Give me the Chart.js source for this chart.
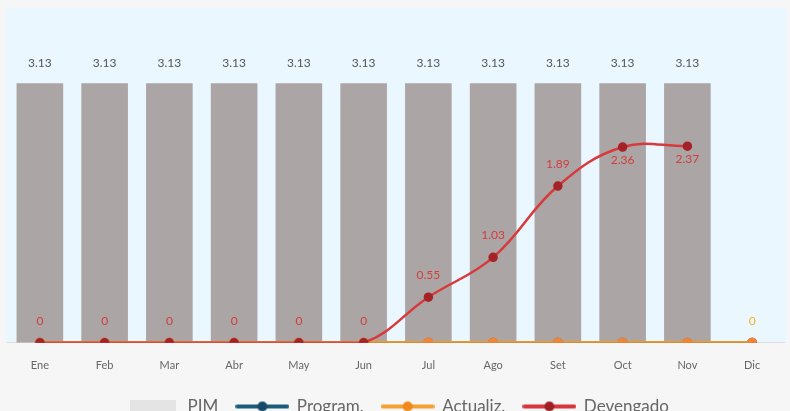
<!DOCTYPE html>
<html>
<head>
<meta charset="utf-8">
<script src="https://cdn.jsdelivr.net/npm/chart.js@4/dist/chart.umd.min.js"></script>
<style>
  html, body { margin: 0; padding: 0; background: #f6f6f6; overflow: hidden; }
  #wrap { width: 792px; height: 425px; position: relative; }
</style>
</head>
<body>
<div id="wrap"><canvas id="myChart"></canvas></div>
<script>
// Datos del grafico
const meses = ['Ene', 'Feb', 'Mar', 'Abr', 'May', 'Jun', 'Jul', 'Ago', 'Set', 'Oct', 'Nov', 'Dic'];
const pim = [3.13, 3.13, 3.13, 3.13, 3.13, 3.13, 3.13, 3.13, 3.13, 3.13, 3.13, null];
const programado = [0, 0, 0, 0, 0, 0, 0, 0, 0, 0, 0, 0];
const actualizado = [0, 0, 0, 0, 0, 0, 0, 0, 0, 0, 0, 0];
const devengado = [0, 0, 0, 0, 0, 0, 0.55, 1.03, 1.89, 2.36, 2.37, null];

const FONT = 'Lato, "Open Sans", sans-serif';

// marcador de leyenda: linea con punto
function lineMarker(color, dot) {
    const c = document.createElement('canvas');
    c.width = 54; c.height = 14;
    const g = c.getContext('2d');
    g.strokeStyle = color; g.lineWidth = 4; g.lineCap = 'round';
    g.beginPath(); g.moveTo(2, 7); g.lineTo(52, 7); g.stroke();
    g.fillStyle = dot;
    g.beginPath(); g.arc(27, 7, 5, 0, Math.PI * 2); g.fill();
    return c;
}
function boxMarker(color) {
    const c = document.createElement('canvas');
    c.width = 46; c.height = 14;
    const g = c.getContext('2d');
    g.fillStyle = color; g.fillRect(0, 0, 46, 14);
    return c;
}
const markers = [boxMarker('#e4e4e4'), lineMarker('#1d5b7d', '#164a66'),
                 lineMarker('#f5a033', '#ef8a1a'), lineMarker('#d9363b', '#9f2024')];

// fondo del area del grafico
const fondo = {
    id: 'fondo',
    beforeDraw(chart) {
        const { ctx, chartArea: a } = chart;
        ctx.save();
        ctx.fillStyle = '#ebf7fe';
        ctx.fillRect(a.left - 2, a.top - 3, a.right - a.left + 4, a.bottom - a.top + 3);
        ctx.restore();
    }
};

// etiquetas de valores
const etiquetas = {
    id: 'etiquetas',
    afterDatasetsDraw(chart) {
        const ctx = chart.ctx;
        ctx.save();
        ctx.font = '12px ' + FONT;
        ctx.textAlign = 'center';
        ctx.textBaseline = 'middle';
        const barMeta = chart.getDatasetMeta(0);
        barMeta.data.forEach((el, i) => {
            if (pim[i] == null) return;
            ctx.fillStyle = '#555';
            ctx.fillText(pim[i].toFixed(2), el.x, el.y - 20);
        });
        const devMeta = chart.getDatasetMeta(3);
        devMeta.data.forEach((el, i) => {
            if (devengado[i] == null) return;
            let y = el.y - 22;
            const barTop = barMeta.data[i].y;
            if (y < barTop + 50) y = el.y + 13;
            ctx.fillStyle = '#d23c3c';
            ctx.fillText(String(devengado[i]), el.x, y);
        });
        const actMeta = chart.getDatasetMeta(2);
        const last = actMeta.data.length - 1;
        ctx.fillStyle = '#f2b21b';
        ctx.fillText(String(actualizado[last]), actMeta.data[last].x, actMeta.data[last].y - 22);
        ctx.restore();
    }
};

const ctx = document.getElementById('myChart').getContext('2d');
const myChart = new Chart(ctx, {
    type: 'bar',
    data: {
        labels: meses,
        datasets: [
            {
                label: 'PIM',
                data: pim,
                backgroundColor: '#aba6a5',
                order: 4,
            },
            {
                type: 'line',
                label: 'Program.',
                data: programado,
                borderColor: '#1d5b7d',
                backgroundColor: '#164a66',
                pointBorderColor: '#164a66',
                borderWidth: 3,
                pointRadius: 3.5,
                tension: 0.4,
                order: 3,
            },
            {
                type: 'line',
                label: 'Actualiz.',
                data: actualizado,
                borderColor: '#f29a26',
                backgroundColor: '#f0853a',
                pointBorderColor: '#f0853a',
                borderWidth: 3.5,
                pointRadius: 3.5,
                tension: 0.4,
                order: 2,
            },
            {
                type: 'line',
                label: 'Devengado',
                data: devengado,
                borderColor: '#d8393c',
                backgroundColor: '#a52226',
                pointBorderColor: '#a52226',
                borderWidth: 2.5,
                pointRadius: 3.5,
                tension: 0.4,
                order: 1,
            },
        ]
    },
    options: {
        responsive: true,
        maintainAspectRatio: false,
        animation: false,
        layout: { padding: { left: 4, right: 0, top: 11 } },
        plugins: {
            tooltip: { enabled: false },
            legend: {
                position: 'bottom',
                labels: {
                    usePointStyle: true,
                    pointStyleWidth: 52,
                    padding: 18,
                    color: '#666',
                    font: { family: FONT, size: 17 },
                    generateLabels(chart) {
                        return chart.data.datasets.map((ds, i) => ({
                            text: ds.label,
                            fontColor: '#666',
                            pointStyle: markers[i],
                            datasetIndex: i,
                            hidden: false,
                            lineWidth: 0,
                        }));
                    }
                }
            }
        },
        scales: {
            x: {
                grid: { display: false },
                border: { color: '#dddddd' },
                ticks: { color: '#666', font: { family: FONT, size: 11 }, padding: 8 },
            },
            y: {
                display: false,
                min: 0,
                max: 4,
            }
        }
    },
    plugins: [fondo, etiquetas]
});
</script>
</body>
</html>
